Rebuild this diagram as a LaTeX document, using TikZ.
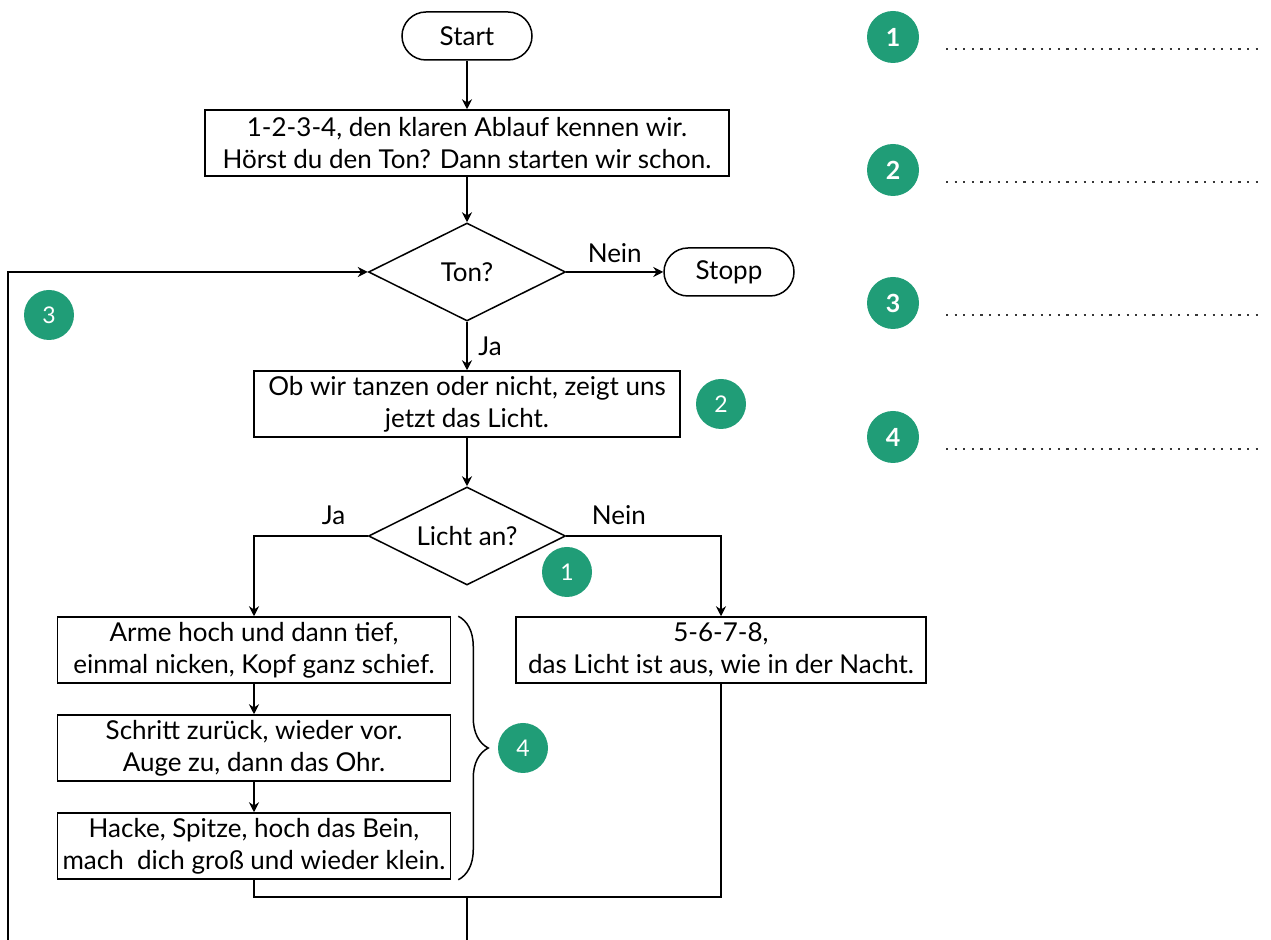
\documentclass[tikz,border=0pt]{standalone}
\usepackage{fontspec}
\setmainfont{Lato}
\usepackage{tikz}
\usetikzlibrary{shapes.geometric,arrows.meta,decorations.pathreplacing}
\definecolor{numgreen}{RGB}{32,157,119}
\definecolor{dotgray}{RGB}{55,55,55}

\begin{document}
\begin{tikzpicture}[
  x=0.5pt, y=-0.5pt,
  box/.style={draw, line width=0.75pt, minimum height=33pt,
    font=\fontsize{13}{16}\selectfont, inner sep=2pt},
  pill/.style={draw, line width=0.75pt, rounded corners=12pt,
    minimum width=65pt, minimum height=24pt,
    font=\fontsize{13}{16}\selectfont},
  dia/.style={draw, diamond, aspect=2, line width=0.75pt, inner sep=0pt,
    minimum width=98.5pt, minimum height=49pt,
    font=\fontsize{13}{16}\selectfont},
  num/.style={circle, fill=numgreen, text=white, inner sep=0pt,
    minimum size=25pt, font=\fontsize{11.5}{13}\selectfont},
  bignum/.style={num, minimum size=26pt, font=\fontsize{12.5}{13}\selectfont\bfseries},
  arr/.style={->, >={Stealth[length=5pt,width=5pt]}, line width=0.75pt},
  ln/.style={line width=0.75pt},
  lbl/.style={font=\fontsize{13}{16}\selectfont},
  dotline/.style={draw=dotgray, line width=1.2pt, dash pattern=on 1.1pt off 3.2pt},
  every node/.style={align=center}
]
  \useasboundingbox (0,0) rectangle (1271,940);

  \node[pill] (st)    at (467,36)  {Start};
  \node[box, minimum width=262pt] (intro) at (467,143)
    {1-2-3-4, den klaren Ablauf kennen wir.\\Hörst du den Ton? Dann starten wir schon.};
  \node[dia]  (ton)   at (467,272) {Ton?};
  \node[pill] (stp)   at (729,272) {Stopp};
  \node[box, minimum width=213pt] (tanz) at (467,404)
    {Ob wir tanzen oder nicht, zeigt uns\\jetzt das Licht.};
  \node[dia]  (licht) at (467,536) {Licht an?};
  \node[box, minimum width=196.5pt] (arm)  at (254,650)
    {Arme hoch und dann tief,\\einmal nicken, Kopf ganz schief.};
  \node[box, minimum width=196.5pt] (schr) at (254,748)
    {Schritt zurück, wieder vor.\\Auge zu, dann das Ohr.};
  \node[box, minimum width=196.5pt] (hack) at (254,846)
    {Hacke, Spitze, hoch das Bein,\\mach~ dich groß und wieder klein.};
  \node[box, minimum width=205pt] (aus)  at (721,650)
    {5-6-7-8,\\das Licht ist aus, wie in der Nacht.};

  \coordinate (mj)    at (467,897);
  \coordinate (loopa) at (467,940);
  \coordinate (loopb) at (8,940);

  \draw[arr] (st) -- (intro);
  \draw[arr] (intro) -- (ton);
  \draw[arr] (ton) -- (stp) node[lbl,above,midway,yshift=1pt]{Nein};
  \draw[arr] (ton) -- (tanz) node[lbl,right,midway,xshift=2pt]{Ja};
  \draw[arr] (tanz) -- (licht);
  \draw[arr] (licht.west) -| (arm.north) node[lbl,above,pos=0.15,yshift=2pt]{Ja};
  \draw[arr] (licht.east) -| (aus.north) node[lbl,above,pos=0.17,yshift=2pt]{Nein};
  \draw[arr] (arm) -- (schr);
  \draw[arr] (schr) -- (hack);
  \draw[ln]  (hack.south) |- (mj) -| (aus.south);
  \draw[ln]  (mj) -- (loopa);
  \draw[arr] (loopb) |- (ton.west);

  \draw[line width=0.75pt, decorate, decoration={brace, amplitude=15pt}]
    ([xshift=3.5pt]arm.north east) -- ([xshift=3.5pt]hack.south east);

  % markers in the chart
  \node[num] (n1) at (567,572) {1};
  \node[num] (n2) at (721,404) {2};
  \node[num] (n3) at (49,315)  {3};
  \node[num] (n4) at (523,748) {4};

  % legend with blanks
  \foreach \i/\y in {1/37, 2/170, 3/303, 4/437} {
    \node[bignum] (k\i) at (893,\y) {\i};
    \draw[dotline] (946,\y+12) -- (1262,\y+12);
  }
\end{tikzpicture}
\end{document}
